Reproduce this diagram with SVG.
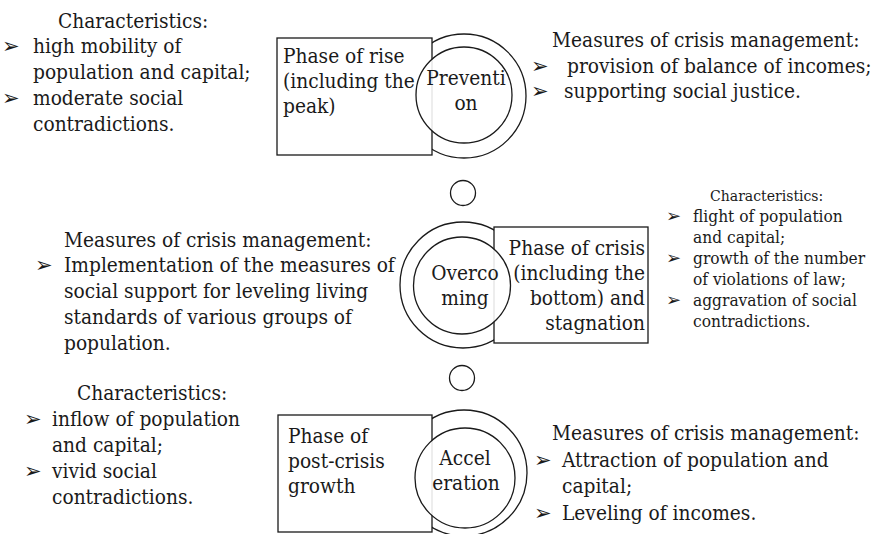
<svg xmlns="http://www.w3.org/2000/svg" width="875" height="534" viewBox="0 0 875 534">
<style>
.t,.s,.h{font-family:'DejaVu Serif Condensed','DejaVu Serif',serif;font-stretch:condensed;fill:#1a1a1a}
.t{font-size:20.7px}
.s{font-size:17.2px}
.h{font-size:15.6px}
.b{font-family:'DejaVu Sans',sans-serif;font-size:21px;fill:#1a1a1a}
.bs{font-family:'DejaVu Sans',sans-serif;font-size:18px;fill:#1a1a1a}
.box{fill:#fff;stroke:#1a1a1a;stroke-width:1.3}
.outer{fill:#fff;stroke:#1a1a1a;stroke-width:1.3}
.inner{fill:#fff;fill-opacity:0.88;stroke:#1a1a1a;stroke-width:1.3}
.c{text-anchor:middle}
.e{text-anchor:end}
</style>
<rect width="875" height="534" fill="#fff"/>

<g id="connectors">
<circle cx="463" cy="193" r="12.5" fill="none" stroke="#1a1a1a" stroke-width="1.3"/>
<circle cx="462" cy="378" r="12.5" fill="none" stroke="#1a1a1a" stroke-width="1.3"/>
</g>

<g id="node-prevention">
<circle class="outer" cx="464" cy="96" r="62"/>
<rect class="box" x="277" y="38" width="155" height="117"/>
<circle class="inner" cx="464" cy="95" r="48"/>
<text class="t" x="283" y="63">Phase of rise</text>
<text class="t" x="283" y="88">(including the</text>
<text class="t" x="283" y="113">peak)</text>
<text class="t c" x="466" y="85">Preventi</text>
<text class="t c" x="466" y="110">on</text>
</g>

<g id="node-overcoming">
<circle class="outer" cx="463" cy="285" r="63"/>
<rect class="box" x="494" y="227" width="154" height="116"/>
<circle class="inner" cx="462" cy="285.5" r="48.5"/>
<text class="t e" x="645" y="255">Phase of crisis</text>
<text class="t e" x="645" y="280">(including the</text>
<text class="t e" x="645" y="305">bottom) and</text>
<text class="t e" x="645" y="330">stagnation</text>
<text class="t c" x="465" y="280">Overco</text>
<text class="t c" x="465" y="305">ming</text>
</g>

<g id="node-acceleration">
<circle class="outer" cx="464" cy="473" r="63"/>
<rect class="box" x="278" y="415" width="154" height="117"/>
<circle class="inner" cx="465" cy="478" r="50"/>
<text class="t" x="288" y="443">Phase of</text>
<text class="t" x="288" y="468">post-crisis</text>
<text class="t" x="288" y="493">growth</text>
<text class="t c" x="465" y="465">Accel</text>
<text class="t c" x="466" y="490">eration</text>
</g>

<g id="char-rise">
<text class="t" x="58" y="28">Characteristics:</text>
<text class="b" x="2" y="53">➢</text>
<text class="t" x="33" y="53">high mobility of</text>
<text class="t" x="33" y="79">population and capital;</text>
<text class="b" x="2" y="105">➢</text>
<text class="t" x="33" y="105">moderate social</text>
<text class="t" x="33" y="131">contradictions.</text>
</g>

<g id="measures-rise">
<text class="t" x="552" y="47">Measures of crisis management:</text>
<text class="b" x="531" y="73">➢</text>
<text class="t" x="567" y="73">provision of balance of incomes;</text>
<text class="b" x="531" y="98">➢</text>
<text class="t" x="564" y="98">supporting social justice.</text>
</g>

<g id="measures-crisis">
<text class="t" x="64" y="247">Measures of crisis management:</text>
<text class="b" x="35" y="272">➢</text>
<text class="t" x="64" y="272">Implementation of the measures of</text>
<text class="t" x="64" y="298">social support for leveling living</text>
<text class="t" x="64" y="324">standards of various groups of</text>
<text class="t" x="64" y="350">population.</text>
</g>

<g id="char-crisis">
<text class="h" x="710" y="201">Characteristics:</text>
<text class="bs" x="666" y="222">➢</text>
<text class="s" x="693" y="222">flight of population</text>
<text class="s" x="693" y="243">and capital;</text>
<text class="bs" x="666" y="264">➢</text>
<text class="s" x="693" y="264">growth of the number</text>
<text class="s" x="693" y="285">of violations of law;</text>
<text class="bs" x="666" y="306">➢</text>
<text class="s" x="693" y="306">aggravation of social</text>
<text class="s" x="693" y="327">contradictions.</text>
</g>

<g id="char-growth">
<text class="t" x="77" y="400">Characteristics:</text>
<text class="b" x="24" y="426">➢</text>
<text class="t" x="52" y="426">inflow of population</text>
<text class="t" x="52" y="452">and capital;</text>
<text class="b" x="24" y="478">➢</text>
<text class="t" x="52" y="478">vivid social</text>
<text class="t" x="52" y="504">contradictions.</text>
</g>

<g id="measures-growth">
<text class="t" x="552" y="440">Measures of crisis management:</text>
<text class="b" x="534" y="467">➢</text>
<text class="t" x="562" y="467">Attraction of population and</text>
<text class="t" x="562" y="493">capital;</text>
<text class="b" x="534" y="520">➢</text>
<text class="t" x="562" y="520">Leveling of incomes.</text>
</g>
</svg>
